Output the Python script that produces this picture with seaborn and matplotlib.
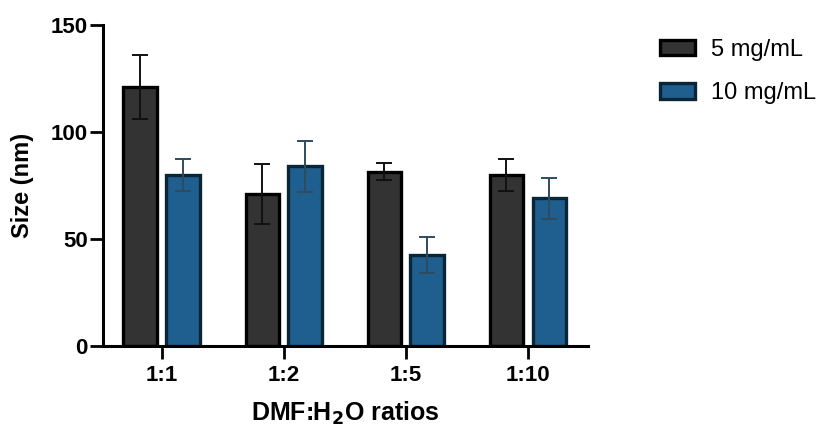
import pandas as pd
import seaborn as sns
import matplotlib.pyplot as plt
import numpy as np

# data
ratios = ['1:1', '1:2', '1:5', '1:10']
conc = ['5 mg/mL', '10 mg/mL']
size_5 = [121, 71, 81.5, 80]
size_10 = [80, 84, 42.5, 69]
err_5 = [15, 14, 4, 7.5]
err_10 = [7.5, 12, 8.5, 9.5]

df = pd.DataFrame({
    'ratio': ratios * 2,
    'conc': [conc[0]] * 4 + [conc[1]] * 4,
    'size': size_5 + size_10,
})

sns.set_style('ticks')
plt.rcParams['font.family'] = ['Liberation Sans', 'DejaVu Sans']
plt.rcParams['text.color'] = 'black'
plt.rcParams['axes.labelcolor'] = 'black'
plt.rcParams['xtick.color'] = 'black'
plt.rcParams['ytick.color'] = 'black'
plt.rcParams['axes.edgecolor'] = 'black'

fig = plt.figure(figsize=(8.3, 4.3), dpi=100)
ax = fig.add_axes([0.124, 0.195, 0.584, 0.747])

fills = ['#333333', '#1f5f8f']
edges = ['#000000', '#0a2535']
errc = ['#111111', '#2f4c5c']

sns.barplot(data=df, x='ratio', y='size', hue='conc', order=ratios,
            hue_order=conc, palette=fills, width=0.7, gap=0.22,
            saturation=1, errorbar=None, ax=ax, linewidth=2.4)

# recolour edges and add the error bars per series
bar_conts = list(ax.containers)
for i, cont in enumerate(bar_conts):
    vals = size_5 if i == 0 else size_10
    errs = err_5 if i == 0 else err_10
    xs = []
    for p in cont.patches:
        p.set_edgecolor(edges[i])
        xs.append(p.get_x() + p.get_width() / 2)
    ax.errorbar(xs, vals, yerr=errs, fmt='none', ecolor=errc[i],
                elinewidth=1.4, capsize=6, capthick=1.4, zorder=3)

ax.set_ylim(0, 150)
ax.set_yticks([0, 50, 100, 150])
ax.set_xlim(-0.48, 3.49)
sns.despine(ax=ax)
for s in ['left', 'bottom']:
    ax.spines[s].set_linewidth(2.2)
ax.tick_params(width=2, length=9.5, labelsize=16)
ax.tick_params(axis='y', pad=1.5)
ax.tick_params(axis='x', pad=4)
for lab in ax.get_xticklabels() + ax.get_yticklabels():
    lab.set_fontweight('bold')

ax.set_ylabel('Size (nm)', fontsize=17, fontweight='bold', labelpad=12)
ax.set_xlabel('DMF:H$_\\mathbf{2}$O ratios', fontsize=18, fontweight='bold', labelpad=10)

leg = ax.legend(loc='upper left', bbox_to_anchor=(0.795, 0.91),
                bbox_transform=fig.transFigure, frameon=False,
                fontsize=17, handlelength=1.5, handleheight=0.65,
                labelspacing=0.92, handletextpad=0.65,
                borderpad=0, borderaxespad=0)
for h, e in zip(leg.legend_handles, edges):
    h.set_edgecolor(e)
    h.set_linewidth(2.4)

fig.savefig('out.png', dpi=100)
